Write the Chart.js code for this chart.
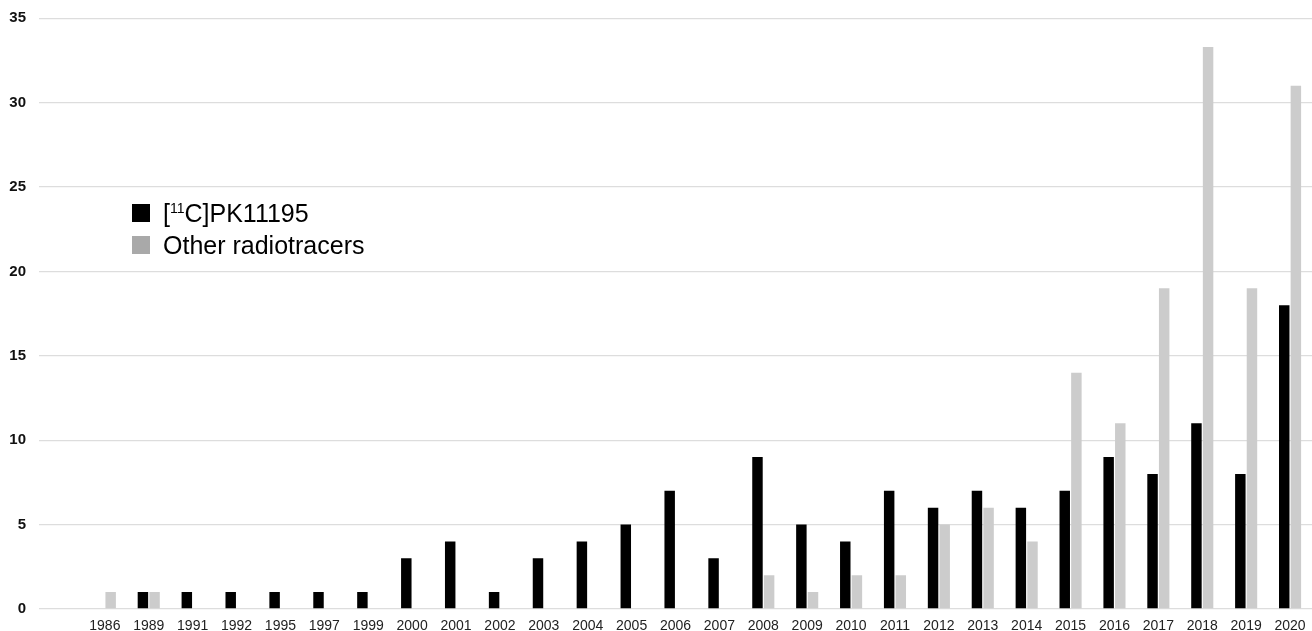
<!DOCTYPE html>
<html>
<head>
<meta charset="utf-8">
<script src="https://cdn.jsdelivr.net/npm/chart.js@4.4.1/dist/chart.umd.min.js"></script>
<style>
  html, body { margin: 0; padding: 0; background: #fff; }
  #wrap { position: relative; width: 1312px; height: 631px; }
  #legend {
    position: absolute; left: 132px; top: 197px;
    font-family: "Liberation Sans", Arial, sans-serif; font-size: 25px; color: #000;
  }
  #legend .item { display: flex; align-items: center; height: 32px; }
  #legend .box { width: 18px; height: 18px; margin-right: 13px; }
  #legend sup { font-size: 14px; vertical-align: 9px; line-height: 0; }
</style>
</head>
<body>
<div id="wrap">
  <canvas id="chart" width="1312" height="631"></canvas>
  <div id="legend">
    <div class="item"><span class="box" style="background:#000"></span><span>[<sup>11</sup>C]PK11195</span></div>
    <div class="item"><span class="box" style="background:#a9a9a9"></span><span>Other radiotracers</span></div>
  </div>
</div>
<script>
// years with publications (first slot is an empty spacer category)
const years = ['', '1986', '1989', '1991', '1992', '1995', '1997', '1999', '2000', '2001', '2002',
  '2003', '2004', '2005', '2006', '2007', '2008', '2009', '2010', '2011', '2012',
  '2013', '2014', '2015', '2016', '2017', '2018', '2019', '2020'];

const pk11195 = [null, 0, 1, 1, 1, 1, 1, 1, 3, 4, 1,
  3, 4, 5, 7, 3, 9, 5, 4, 7, 6,
  7, 6, 7, 9, 8, 11, 8, 18];

const otherTracers = [null, 1, 1, 0, 0, 0, 0, 0, 0, 0, 0,
  0, 0, 0, 0, 0, 2, 1, 2, 2, 5,
  6, 4, 14, 11, 19, 33.3, 19, 31];

const yTicks = [0, 5, 10, 15, 20, 25, 30, 35];

const ctx = document.getElementById('chart').getContext('2d');
new Chart(ctx, {
  type: 'bar',
  data: {
    labels: years,
    datasets: [
      { label: '[11C]PK11195', data: pk11195, backgroundColor: '#000000' },
      { label: 'Other radiotracers', data: otherTracers, backgroundColor: '#cccccc' },
    ],
  },
  options: {
    responsive: false,
    animation: false,
    layout: { padding: 0 },
    categoryPercentage: 0.53,
    barPercentage: 0.9,
    plugins: {
      legend: { display: false },
      tooltip: { enabled: false },
    },
    scales: {
      x: {
        afterFit: (scale) => { scale.height = 22; },
        grid: { display: false },
        border: { display: false },
        ticks: {
          color: '#222',
          font: { family: '"Liberation Sans Narrow", "Liberation Sans", sans-serif', size: 14 },
          maxRotation: 0,
          autoSkip: false,
          padding: 1,
        },
      },
      y: {
        min: 0,
        max: 35,
        afterBuildTicks: (scale) => { scale.ticks = yTicks.map(v => ({ value: v })); },
        afterFit: (scale) => { scale.width = 39; },
        grid: { color: '#dddddd', drawTicks: false, lineWidth: 1.3 },
        border: { display: false },
        ticks: {
          color: '#111',
          padding: 13,
          // small lineHeight keeps the top label from pushing the chart area down
          font: { family: 'Liberation Sans, Arial, sans-serif', size: 15, weight: 'bold', lineHeight: 0.7 },
        },
      },
    },
  },
});
</script>
</body>
</html>
